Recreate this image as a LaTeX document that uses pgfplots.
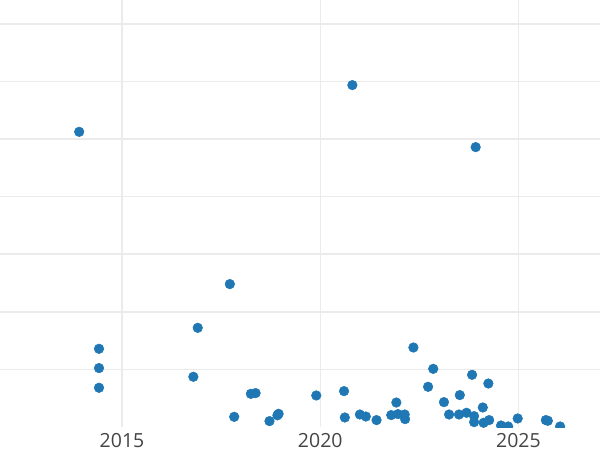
\documentclass[border=0pt]{standalone}
\usepackage{fontspec}
\setmainfont{Open Sans}
\usepackage{pgfplots}
\pgfplotsset{compat=1.18}
\definecolor{dotblue}{HTML}{1F77B4}
\definecolor{gridgray}{HTML}{EBEBEB}
\definecolor{ticktext}{HTML}{444444}
\begin{document}
\begin{tikzpicture}
\begin{axis}[
  at={(0,17.25pt)}, anchor=south west,
  scale only axis, width=450pt, height=320.4pt,
  xmin=2011.923, xmax=2027.056, ymin=0, ymax=7.417,
  xtick={2015,2020,2025}, ytick={1,2,3,4,5,6,7}, yticklabels={},
  xmajorgrids, ymajorgrids,
  major grid style={draw=gridgray, line width=1.1pt},
  axis line style={draw=none}, tick style={draw=none},
  xticklabel style={font=\fontsize{14.6}{16}\selectfont, text=ticktext, yshift=-1pt},
  /pgf/number format/1000 sep={},
  /pgf/number format/assume math mode=true,
  clip marker paths=true,
]
\addplot[color=dotblue, only marks, mark=*, mark size=3.6pt, mark options={draw=dotblue, fill=dotblue}] coordinates {
(2013.92, 5.125) (2020.81, 5.936) (2023.92, 4.859) (2017.72, 2.481) (2016.91, 1.722)
(2014.42, 1.358) (2014.42, 1.023) (2014.42, 0.681) (2016.80, 0.872) (2017.83, 0.177)
(2018.25, 0.576) (2018.37, 0.589) (2018.72, 0.102) (2018.95, 0.229) (2018.92, 0.203)
(2019.90, 0.547) (2020.60, 0.623) (2020.62, 0.165) (2021.00, 0.217) (2021.15, 0.182)
(2021.42, 0.120) (2021.79, 0.207) (2021.92, 0.425) (2021.96, 0.224) (2022.13, 0.217)
(2022.14, 0.137) (2022.35, 1.380) (2022.85, 1.010) (2022.72, 0.698) (2023.12, 0.432)
(2023.25, 0.217) (2023.52, 0.554) (2023.50, 0.217) (2023.69, 0.247) (2023.83, 0.906)
(2023.88, 0.189) (2023.88, 0.085) (2024.10, 0.339) (2024.12, 0.073) (2024.24, 0.755)
(2024.26, 0.120) (2024.56, 0.026) (2024.74, 0.009) (2024.98, 0.148) (2025.69, 0.120)
(2025.74, 0.108) (2026.05, 0.009)
};
\end{axis}
\pgfresetboundingbox
\useasboundingbox (0,0) rectangle (450pt,337.5pt);
\end{tikzpicture}
\end{document}
